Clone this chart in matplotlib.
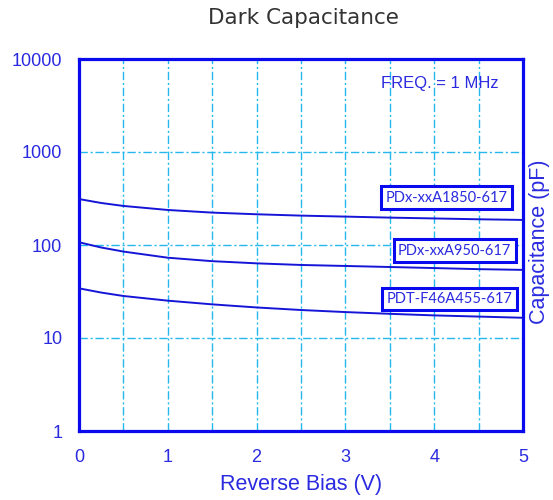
import matplotlib
matplotlib.use("Agg")
import matplotlib.pyplot as plt
from matplotlib.ticker import FixedLocator, NullLocator

# Data
bias = [0, 0.25, 0.5, 1, 1.5, 2, 2.5, 3, 3.5, 4, 4.5, 5]
cap_1850 = [312, 283, 263, 238, 223, 214, 207, 202, 197, 193, 189, 186]
cap_950 = [107, 94, 85, 73, 67, 63.5, 61, 59.5, 58, 56.5, 55, 54]
cap_455 = [34.2, 30.8, 28.3, 25.2, 23.0, 21.3, 20.0, 19.0, 18.2, 17.5, 17.0, 16.5]
series_names = ["PDx-xxA1850-617", "PDx-xxA950-617", "PDT-F46A455-617"]
label_pos = [(4.14, 324), (4.23, 87), (4.17, 26.3)]
xticks = [0, 1, 2, 3, 4, 5]
yticks = [1, 10, 100, 1000, 10000]
ytick_labels = ["1", "10", "100", "1000", "10000"]

plt.rcParams['font.family'] = ['Liberation Sans', 'DejaVu Sans']

fig = plt.figure(figsize=(5.53, 5.0), dpi=100)
ax = fig.add_axes([79/553, 69/500, 444/553, 372/500])

blue = '#0a0aee'
txt_blue = '#2a2ae0'
grid_c = '#25b8ee'
line_c = '#1515d8'

for ys in (cap_1850, cap_950, cap_455):
    ax.plot(bias, ys, color=line_c, lw=1.4, zorder=3)

ax.set_yscale('log')
ax.set_xlim(0, 5)
ax.set_ylim(1, 10000)
ax.xaxis.set_major_locator(FixedLocator(xticks))
ax.xaxis.set_minor_locator(FixedLocator([0.5, 1.5, 2.5, 3.5, 4.5]))
ax.yaxis.set_major_locator(FixedLocator(yticks))
ax.yaxis.set_minor_locator(NullLocator())
ax.set_yticklabels(ytick_labels)

ax.grid(True, which='both', axis='x', color=grid_c, lw=1.0, linestyle=(0, (6, 2, 1.5, 2)))
ax.grid(True, which='major', axis='y', color=grid_c, lw=1.0, linestyle=(0, (6, 2, 1.5, 2)))

ax.tick_params(axis='both', which='both', length=0, colors=txt_blue, labelsize=13)
ax.tick_params(axis='y', pad=12)
ax.tick_params(axis='x', pad=13)
for s in ax.spines.values():
    s.set_color(blue)
    s.set_linewidth(2.3)

ax.set_xlabel('Reverse Bias (V)', color=txt_blue, fontsize=15.5, labelpad=6)
fig.text(540/553, 1 - 242/500, 'Capacitance (pF)', rotation=90, ha='center', va='center',
         color=txt_blue, fontsize=15.5)

fig.text(303/553, 1 - 18/500, 'Dark Capacitance', ha='center', va='center',
         color='#333333', fontsize=15.5, family=['DejaVu Sans'])

ax.text(0.944, 0.935, 'FREQ. = 1 MHz', transform=ax.transAxes, ha='right', va='center',
        color=txt_blue, fontsize=12)

for name, (lx, ly) in zip(series_names, label_pos):
    ax.text(lx, ly, name, ha='center', va='center', color=txt_blue, fontsize=10.5,
            family=['Lato', 'DejaVu Sans'], zorder=5,
            bbox=dict(boxstyle='square,pad=0.3', fc='white', ec=blue, lw=2.2))

fig.savefig('out.png', dpi=100)
